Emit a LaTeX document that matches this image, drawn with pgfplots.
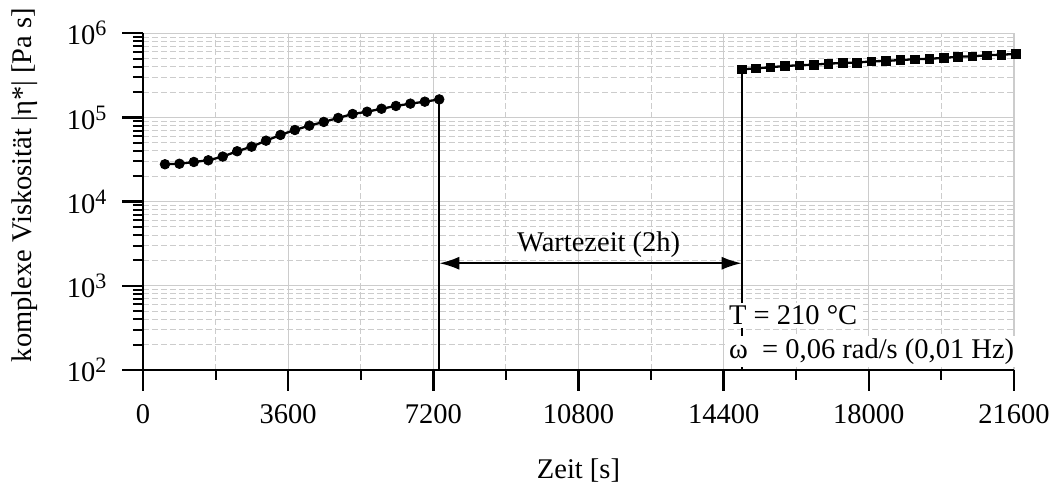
\documentclass[border=0pt]{standalone}
\usepackage{fontspec}
\setmainfont{Liberation Serif}
\usepackage{pgfplots}
\pgfplotsset{compat=1.18}
\usetikzlibrary{arrows.meta}
\newcommand{\fs}{\fontsize{28.5}{34}\selectfont}
\newcommand{\sups}[1]{\raisebox{9pt}{\fontsize{22}{22}\selectfont #1}}
\begin{document}
\begin{tikzpicture}
\begin{axis}[
 at={(0,0)}, anchor=south west,
 scale only axis, width=871pt, height=336.7pt,
 xmin=0, xmax=21600, ymode=log, ymin=100, ymax=1e6,
 scaled x ticks=false,
 axis x line=bottom, axis y line=left,
 axis line style={-, line width=2.4pt},
 xtick={0,3600,7200,10800,14400,18000,21600},
 xticklabels={0,3600,7200,10800,14400,18000,21600},
 minor xtick={1800,5400,9000,12600,16200,19800},
 ytick={1e2,1e3,1e4,1e5,1e6},
 yticklabels={10\sups{2},10\sups{3},10\sups{4},10\sups{5},10\sups{6}},
 minor ytick={200,300,400,500,600,700,800,900,2000,3000,4000,5000,6000,7000,8000,9000,20000,30000,40000,50000,60000,70000,80000,90000,200000,300000,400000,500000,600000,700000,800000,900000},
 tick align=outside,
 major tick length=21pt, minor tick length=10pt,
 every major tick/.style={line width=2.4pt, black},
 every minor tick/.style={line width=2pt, black},
 grid=both,
 major grid style={line width=1.3pt, color=gray!40},
 minor grid style={line width=1pt, color=gray!40, dash pattern=on 6pt off 3pt},
 tick label style={font=\fs},
 label style={font=\fs},
 xticklabel style={yshift=-10pt},
 yticklabel style={xshift=-12pt},
 xlabel={Zeit [s]},
 ylabel={komplexe Viskosität |η*| [Pa s]},
 xlabel style={at={(axis description cs:0.5,-0.30)}, anchor=center},
 ylabel style={at={(axis description cs:-0.1355,0.549)}, anchor=center},
 clip=false,
]
\addplot[black, line width=2pt] coordinates {(7347,164000) (7347,100)};
\addplot[black, line width=2pt] coordinates {(14848,373000) (14848,100)};
\addplot[black, line width=2.3pt, mark=*, mark size=4.8pt, mark options={solid, line width=0.8pt}] coordinates {
(545,27800) (903,28200) (1261,29600) (1619,31000) (1977,34300) (2335,39700) (2693,45000) (3051,53000) (3409,62000) (3767,71000) (4125,80000) (4483,88500) (4841,98700) (5199,110000) (5557,117000) (5915,127000) (6273,137000) (6631,146000) (6989,154000) (7347,164000)};
\addplot[black, line width=2.3pt, mark=square*, mark size=4.3pt, mark options={solid, line width=0.8pt}] coordinates {
(14848,373000) (15206,384000) (15563,395000) (15921,409000) (16279,417000) (16637,424000) (16994,436000) (17352,444000) (17710,448000) (18067,465000) (18425,469000) (18783,482000) (19141,491000) (19498,499000) (19856,509000) (20214,527000) (20571,533000) (20929,548000) (21287,557000) (21645,568000)};
\draw[{Latex[length=20pt,width=13pt]}-{Latex[length=20pt,width=13pt]}, line width=2pt] (axis cs:7347,1855) -- (axis cs:14848,1855);
\node[anchor=base, font=\fs] at (axis cs:11300,2527) {Wartezeit (2h)};
\node[fill=white, inner sep=3pt, anchor=west, font=\fs] at (axis cs:14458,445) {T = 210 °C};
\node[fill=white, inner sep=3pt, anchor=west, font=\fs] at (axis cs:14458,166) {ω~~= 0,06 rad/s (0,01 Hz)};
\end{axis}
\pgfresetboundingbox
\path[use as bounding box] (-143pt,-120pt) rectangle (910pt,370pt);
\end{tikzpicture}
\end{document}
